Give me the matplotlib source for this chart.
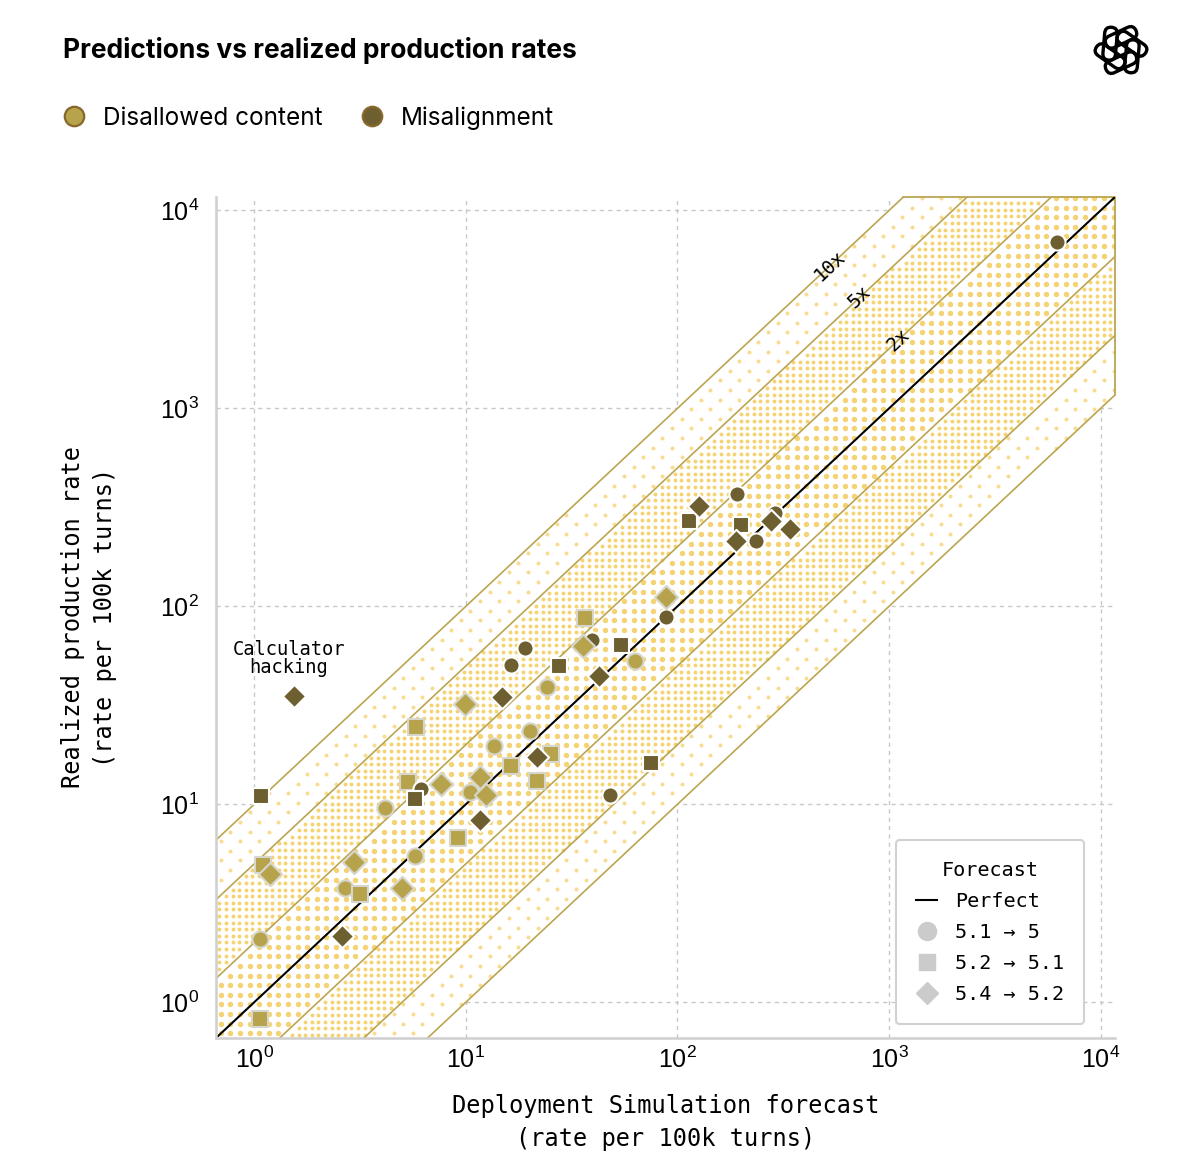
import numpy as np
import matplotlib
matplotlib.use("Agg")
import matplotlib.pyplot as plt
from matplotlib.lines import Line2D
from matplotlib.patches import FancyBboxPatch
from matplotlib.transforms import Affine2D

# ---------------- data ----------------
decades = [1, 10, 100, 1000, 10000]
band_factors = [2, 5, 10]
band_labels = ["2x", "5x", "10x"]

dis_circle_x = [63.3, 24.3, 20.2, 13.6, 10.5, 4.16, 5.77, 2.69, 1.07]
dis_circle_y = [52.7, 39.0, 23.6, 19.6, 11.5, 9.55, 5.46, 3.77, 2.08]
dis_square_x = [36.7, 5.83, 25.4, 16.4, 21.8, 5.35, 9.22, 3.17, 1.10, 1.06]
dis_square_y = [87.0, 24.5, 17.9, 15.6, 13.1, 12.9, 6.73, 3.51, 4.92, 0.82]
dis_diamond_x = [88.7, 35.9, 9.95, 11.7, 12.4, 7.66, 2.97, 5.01, 1.19]
dis_diamond_y = [112, 62.8, 32.0, 13.7, 11.1, 12.6, 5.09, 3.77, 4.43]

mis_circle_x = [6194, 192, 234, 290, 88.7, 39.6, 19.1, 16.4, 48.2, 6.16]
mis_circle_y = [6970, 368, 215, 295, 88.0, 68.0, 61.4, 50.4, 11.2, 12.0]
mis_square_x = [113, 199, 54.4, 27.7, 75.4, 5.77, 1.08]
mis_square_y = [269, 257, 63.5, 49.8, 16.1, 10.7, 11.0]
mis_diamond_x = [126, 190, 278, 339, 42.8, 14.9, 21.8, 11.7, 2.61, 1.55]
mis_diamond_y = [320, 213, 269, 245, 44.3, 34.7, 17.3, 8.3, 2.15, 35.1]

calc_x, calc_y = 1.55, 35.1

# ---------------- style ----------------
LIGHT = "#B7A34C"
DARK = "#6D5F2F"
GOLD = "#BBA550"
DOT = "#F5D272"
DOT_LIGHT = "#F7DC92"
MONO = "DejaVu Sans Mono"
SANS = "Inter"

LIM = (0.66, 11700)

fig = plt.figure(figsize=(12, 11.7), dpi=100)
W_px, H_px = 899, 841
ax = fig.add_axes([216 / 1200, (1170 - 1038) / 1170, W_px / 1200, H_px / 1170])
ax.set_xscale("log")
ax.set_yscale("log")
ax.set_xlim(*LIM)
ax.set_ylim(*LIM)

# grid
ax.set_xticks(decades)
ax.set_yticks(decades)
ax.minorticks_off()
ax.grid(True, which="major", color="#c8c8c8", linestyle=(0, (3, 3)), lw=1.0, zorder=0.2)
ax.set_axisbelow(True)
for s in ["top", "right"]:
    ax.spines[s].set_visible(False)
for s in ["left", "bottom"]:
    ax.spines[s].set_color("#cfcfcf")
    ax.spines[s].set_linewidth(1.8)
ax.tick_params(length=0, labelsize=18, pad=6, labelfontfamily="Liberation Sans")
ax.tick_params(axis="y", pad=12)

# band polygon (white base)
xx = np.logspace(np.log10(LIM[0]), np.log10(LIM[1]), 800)
lower = np.clip(xx / 10, *LIM)
upper = np.clip(xx * 10, *LIM)
ax.fill_between(xx, lower, upper, facecolor="white", edgecolor="none", lw=0, zorder=0.8)
# outline of the band where it meets the top and right edge of the plot
ax.plot([LIM[1] / 10, LIM[1], LIM[1]], [LIM[1], LIM[1], LIM[1] / 10], color=GOLD, lw=1.3,
        zorder=1.5, clip_on=False)

# dot textures
lo, hi = np.log10(LIM[0]), np.log10(LIM[1])


def dot_grid(spacing, checker=False):
    xs = np.arange(spacing / 2, W_px, spacing)
    ys = np.arange(spacing / 2, H_px, spacing)
    X, Y = np.meshgrid(xs, ys)
    if checker:
        I, J = np.meshgrid(np.arange(len(xs)), np.arange(len(ys)))
        m = (I + J) % 2 == 0
        X, Y = X[m], Y[m]
    u = X.ravel() / W_px
    v = Y.ravel() / H_px
    r = (lo + v * (hi - lo)) - (lo + u * (hi - lo))
    return u, v, np.abs(r)


l2, l5, l10 = np.log10(2), np.log10(5), np.log10(10)
u, v, r = dot_grid(9.6)
m = r < l2 - 0.012
ax.scatter(u[m], v[m], s=(5.4 * 0.72) ** 2, c=DOT, linewidths=0, transform=ax.transAxes, zorder=1)
u, v, r = dot_grid(6.6)
m = (r > l2 + 0.01) & (r < l5 - 0.01)
ax.scatter(u[m], v[m], s=(3.9 * 0.72) ** 2, c=DOT, linewidths=0, transform=ax.transAxes, zorder=1)
u, v, r = dot_grid(9.6, checker=True)
m = (r > l5 + 0.012) & (r < l10 - 0.012)
ax.scatter(u[m], v[m], s=(4.0 * 0.72) ** 2, c=DOT_LIGHT, linewidths=0, transform=ax.transAxes, zorder=1)

# band lines
for f in band_factors:
    ax.plot(xx, xx * f, color=GOLD, lw=1.2, zorder=1.5)
    ax.plot(xx, xx / f, color=GOLD, lw=1.2, zorder=1.5)
ax.plot(xx, xx, color="black", lw=1.5, zorder=1.6)

# band labels
p0 = ax.transData.transform((1, 1))
p1 = ax.transData.transform((1000, 1000))
ang = np.degrees(np.arctan2(p1[1] - p0[1], p1[0] - p0[0]))
for f, lab, lx in zip(band_factors, band_labels, [1104, 729, 526]):
    ax.text(lx, lx * f, lab, rotation=ang, rotation_mode="anchor", ha="center", va="center",
            fontsize=14, family=MONO, zorder=3)

# points
pt = dict(s=135, zorder=4)
ax.scatter(dis_circle_x, dis_circle_y, marker="o", c=LIGHT, edgecolors="#d6d6cc", linewidths=1.5, **pt)
ax.scatter(dis_square_x, dis_square_y, marker="s", c=LIGHT, edgecolors="#d6d6cc", linewidths=1.5, **pt)
ax.scatter(mis_circle_x, mis_circle_y, marker="o", c=DARK, edgecolors="white", linewidths=1.5, **pt)
ax.scatter(mis_square_x, mis_square_y, marker="s", c=DARK, edgecolors="white", linewidths=1.5, **pt)
ax.scatter(dis_diamond_x, dis_diamond_y, marker="D", c=LIGHT, edgecolors="#d6d6cc", linewidths=1.5, s=140, zorder=4)
ax.scatter(mis_diamond_x, mis_diamond_y, marker="D", c=DARK, edgecolors="white", linewidths=1.5, s=140, zorder=4)

ax.annotate("Calculator\nhacking", (calc_x, calc_y), xytext=(-4, 14), textcoords="offset points",
            ha="center", va="bottom", fontsize=13.5, family=MONO, linespacing=0.95, zorder=5)

# axis labels
ax.set_xlabel("Deployment Simulation forecast\n(rate per 100k turns)", fontsize=17, family=MONO,
              linespacing=1.45, va="top")
ax.xaxis.set_label_coords(0.5, -0.067)
ax.set_ylabel("Realized production rate\n(rate per 100k turns)", fontsize=17, family=MONO,
              linespacing=1.45)
ax.yaxis.set_label_coords(-0.110, 0.5)

# forecast legend
fh = [
    Line2D([], [], color="black", lw=1.5, label="Perfect"),
    Line2D([], [], marker="o", ls="", ms=13, mfc="#cbcbcb", mec="#cbcbcb", label="5.1 \u2192 5"),
    Line2D([], [], marker="s", ls="", ms=12, mfc="#cbcbcb", mec="#cbcbcb", label="5.2 \u2192 5.1"),
    Line2D([], [], marker="D", ls="", ms=11, mfc="#cbcbcb", mec="#cbcbcb", label="5.4 \u2192 5.2"),
]
leg = ax.legend(handles=fh, title="Forecast", loc="lower right",
                bbox_to_anchor=(1 - 31 / W_px, 14 / H_px), borderaxespad=0,
                prop={"family": MONO, "size": 14.5}, title_fontproperties={"family": MONO, "size": 14.5},
                frameon=True, fancybox=True, edgecolor="#d2d2d2", framealpha=1,
                handlelength=1.0, handletextpad=0.9, labelspacing=0.6, borderpad=1.0)
leg.get_frame().set_linewidth(1.5)
leg.set_zorder(6)

# title and top legend
fig.text(63 / 1200, 1 - 50 / 1170, "Predictions vs realized production rates", fontsize=19,
         fontweight="bold", family=SANS, ha="left", va="center")
th = [
    Line2D([], [], marker="o", ls="", ms=14, mfc=LIGHT, mec="#86672c", mew=1.6, label="Disallowed content"),
    Line2D([], [], marker="o", ls="", ms=14, mfc=DARK, mec="#86672c", mew=1.6, label="Misalignment"),
]
fig.legend(handles=th, loc="center left", bbox_to_anchor=(62 / 1200, 1 - 118 / 1170), ncol=2,
           frameon=False, prop={"family": SANS, "size": 17.5}, handlelength=1.0, handletextpad=0.7,
           columnspacing=1.5, borderaxespad=0, borderpad=0)

# logo
lax = fig.add_axes([(1121 - 30) / 1200, 1 - (50 + 30) / 1170, 60 / 1200, 60 / 1170])
lax.set_xlim(-1, 1)
lax.set_ylim(-1, 1)
lax.set_aspect("equal")
lax.axis("off")
for k in range(6):
    th_ = 60 * k + 30
    c = 0.42 * np.array([np.cos(np.radians(th_)), np.sin(np.radians(th_))])
    L, Wd = 1.1, 0.42
    p = FancyBboxPatch((-L / 2, -Wd / 2), L, Wd, boxstyle=f"round,pad=0,rounding_size={Wd / 2}",
                       fc="none", ec="black", lw=2.4,
                       transform=Affine2D().rotate_deg(th_ + 90 + 25).translate(*c) + lax.transData)
    lax.add_patch(p)

fig.savefig("out.png", dpi=100)
